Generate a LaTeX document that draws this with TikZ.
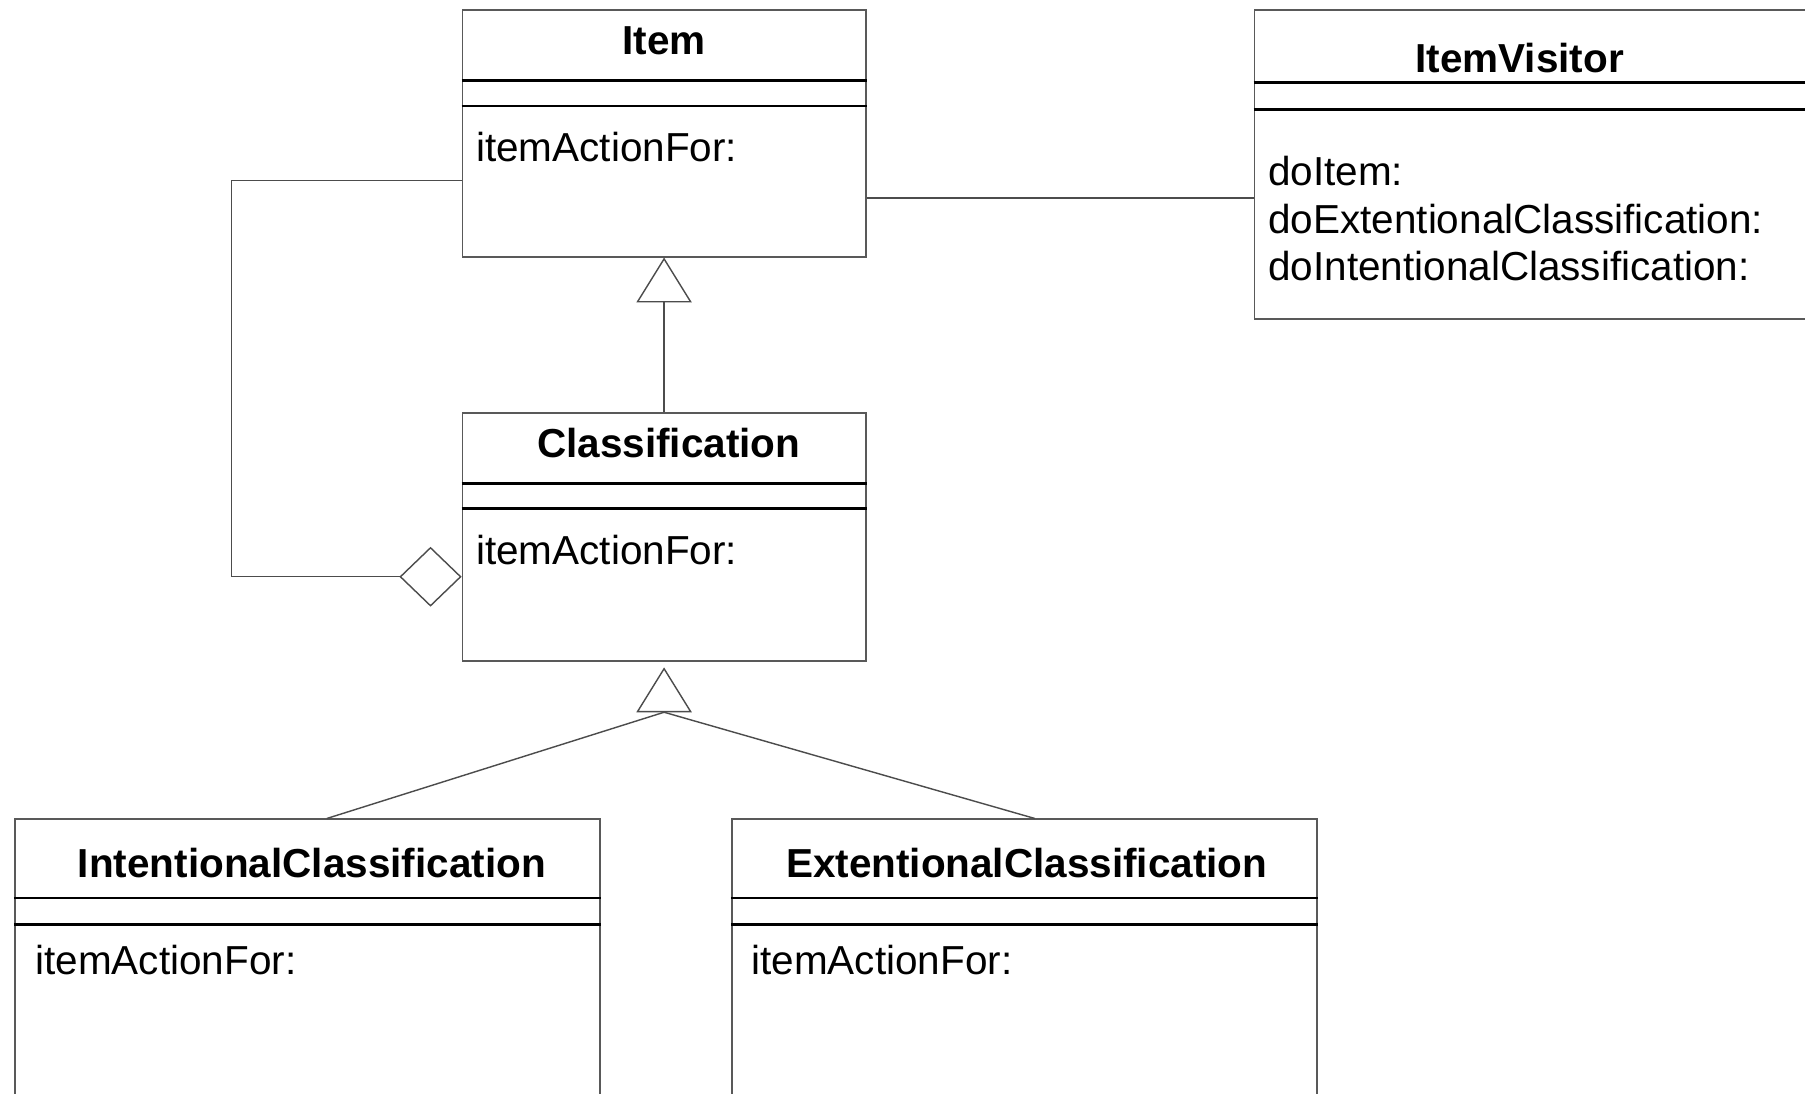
\documentclass[tikz,border=0pt]{standalone}
\usepackage{fontspec}
\setmainfont{Liberation Sans}
\usetikzlibrary{calc,arrows.meta}
\tikzset{
	classframe/.style={draw=black!65, line width=0.45pt, rectangle, inner sep=0pt, anchor=north west},
	classtitle/.style={font=\bfseries\fontsize{10}{12}\selectfont, inner sep=0pt},
	classops/.style={font=\fontsize{10}{11.8}\selectfont, inner sep=0pt, anchor=west, align=left},
	compline/.style={line width=0.7pt, color=black},
	assoc/.style={draw=black!70, line width=0.35pt},
	gentip/.style={-{Triangle[open, length=3.9mm, width=4.8mm]}},
}
\def\complines(#1)(#2:#3){\draw[compline] ($(#1.north west)+(0,#2)$) -- ($(#1.north east)+(0,#2)$);
	\draw[compline] ($(#1.north west)+(0,#3)$) -- ($(#1.north east)+(0,#3)$);}

\begin{document}
\begin{tikzpicture}[x=0.01cm, y=-0.01cm]
		%%%%% START %%%%%
		\useasboundingbox (0,0) rectangle (1568,950);
		
		% Item
		\node[classframe, minimum width=3.5cm, minimum height=2.14cm] (item) at (401, 8) {};
		\node[classtitle] (item-title) at ($(item.north)+(0, 27)$) {Item};
		\node[classops] (item-ops) at ($(item.north west)+(12, 120)$) {itemActionFor:};
		\complines(item)(62:84)
		
		% ItemVisitor
		\node[classframe, minimum width=5.2cm, minimum height=2.68cm] (visitor) at (1089, 8) {};
		\node[classtitle] (visitor-title) at ($(visitor.north west)+(231, 42)$) {ItemVisitor};
		\node[classops] (visitor-ops) at ($(visitor.north west)+(12, 182)$) {doItem:\\doExtentionalClassification:\\doIntentionalClassification:};
		\complines(visitor)(64:87)
		
		% Classification
		\node[classframe, minimum width=3.5cm, minimum height=2.15cm] (cls) at (401, 358) {};
		\node[classtitle] (cls-title) at ($(cls.north)+(4, 27)$) {Classification};
		\node[classops] (cls-ops) at ($(cls.north west)+(12, 120)$) {itemActionFor:};
		\complines(cls)(62:84)
		
		% IntentionalClassification
		\node[classframe, minimum width=5.08cm, minimum height=3.0cm] (intc) at (12, 711) {};
		\node[classtitle] (intc-title) at ($(intc.north)+(4, 39)$) {IntentionalClassification};
		\node[classops] (intc-ops) at ($(intc.north west)+(18, 123)$) {itemActionFor:};
		\complines(intc)(69:92)
		
		% ExtentionalClassification
		\node[classframe, minimum width=5.08cm, minimum height=3.0cm] (extc) at (635, 711) {};
		\node[classtitle] (extc-title) at ($(extc.north)+(2, 39)$) {ExtentionalClassification};
		\node[classops] (extc-ops) at ($(extc.north west)+(17, 123)$) {itemActionFor:};
		\complines(extc)(69:92)
		
		% connectors
		\draw[assoc] ($(item.north east)+(0, 164)$) -- ($(visitor.north west)+(0, 164)$);
		\draw[assoc, gentip] (cls.north) -- (item.south);
		\draw[assoc, {Diamond[open, length=5.4mm, width=5.2mm]}-] ($(cls.north west)+(0, 143)$) -- ++(-200, 0) |- ($(item.north west)+(0, 149)$);
		
		\coordinate (join) at ($(cls.south)+(0, 44)$);
		\draw[assoc, gentip] (join) -- ($(cls.south)+(0, 5)$);
		\draw[assoc] ($(intc.north)+(17, 0)$) -- (join);
		\draw[assoc] ($(extc.north)+(9, 0)$) -- (join);
		
		%%%%% END %%%%%
	\end{tikzpicture}
\end{document}
